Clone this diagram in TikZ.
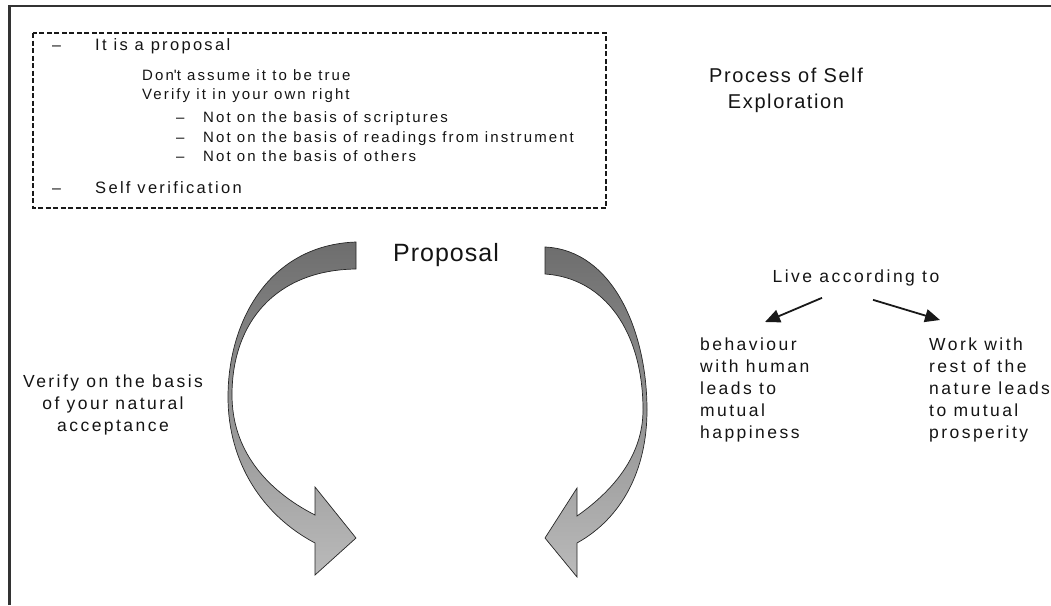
\documentclass[tikz,border=0pt]{standalone}
\usepackage{fontspec}
\setmainfont{Liberation Sans}[LetterSpace=14]
\usetikzlibrary{arrows.meta, positioning}
\tikzset{
    lbl/.style = {inner sep=0pt, text=black!92},
    dashmark/.style = {lbl, anchor=base west},
    topitem/.style = {lbl, anchor=base west, font=\fontsize{16.5}{19}\selectfont},
    subline/.style = {lbl, anchor=base west, font=\fontsize{15}{18}\selectfont},
    body/.style = {lbl, font=\fontsize{17.5}{22}\selectfont},
    ribbon/.style = {draw=black!85, line width=0.7pt, top color=black!57, bottom color=black!27},
    branch/.style = {-{Triangle[length=15pt,width=13pt]}, line width=1.8pt, black!90},
}

\begin{document}
\begin{tikzpicture}[x=1pt, y=-1pt]
    \useasboundingbox (0,0) rectangle (1051,605);
    \draw[black!80, line width=2.5pt] (9.5,605) -- (9.5,6) -- (1051,6);
    % the proposal box
    \draw[black!90, line width=2pt, dash pattern=on 5pt off 2.5pt] (33,33) rectangle (606,208);
    \node (d1) [dashmark, font=\fontsize{16}{19}\selectfont] at (52,50) {–};
    \node (i1) [topitem] at (95,50) {It is a proposal};
    \node (s1) [subline] at (142,80) {Don\textquotesingle t assume it to be true};
    \node (s2) [subline] at (142,99) {Verify it in your own right};
    \foreach \y/\what [count=\i] in {122/scriptures, 142/readings from instrument, 161/others}{
        \node (nd\i) [dashmark, font=\fontsize{15}{18}\selectfont] at (176,\y) {–};
        \node (n\i) [subline] at (203,\y) {Not on the basis of \what};
    }
    \node (d2) [dashmark, font=\fontsize{16}{19}\selectfont] at (52,193) {–};
    \node (i2) [topitem] at (95,193) {Self verification};

    \node (proc) [lbl, align=center, anchor=north,
        font=\fontsize{20}{26}\selectfont\addfontfeatures{LetterSpace=8}] at (786,68) {Process of Self\\Exploration};

    % the two curved arrows
    \node (prop) [lbl, anchor=base,
        font=\fontsize{25}{30}\selectfont\addfontfeatures{LetterSpace=4}] at (446,261) {Proposal};
    \draw[ribbon] (356,242) .. controls (270,245) and (228,320) .. (228,397)
        .. controls (228,462) and (262,515) .. (315,543) -- (315,575) -- (356,538)
        -- (315,487) -- (315,515) .. controls (266,490) and (232,450) .. (232,395)
        .. controls (232,322) and (276,270) .. (356,269) -- cycle;
    \draw[ribbon] (545,247) .. controls (612,250) and (647,330) .. (647,410)
        .. controls (647,470) and (622,518) .. (577,543) -- (577,577) -- (545,538)
        -- (577,488) -- (577,516) .. controls (614,490) and (643,455) .. (643,410)
        .. controls (643,332) and (605,278) .. (545,274) -- cycle;
    \node (ver) [body, align=center, anchor=north] at (113,375) {Verify on the basis\\of your natural\\acceptance};

    % live according to
    \node (live) [body, anchor=base] at (856,282) {Live according to};
    \node (beh) [body, align=left, anchor=north west] at (700,338) {behaviour\\with human\\leads to\\mutual\\happiness};
    \node (work) [body, align=left, anchor=north west] at (929,338) {Work with\\rest of the\\nature leads\\to mutual\\prosperity};
    \coordinate (lbeg) at ([shift={(-34,12)}]live.south);
    \coordinate (rbeg) at ([shift={(17,14)}]live.south);
    \coordinate (lend) at ([shift={(65,-16)}]beh.north west);
    \coordinate (rend) at ([shift={(11,-18)}]work.north west);
    \draw[branch] (lbeg) -- (lend);
    \draw[branch] (rbeg) -- (rend);
\end{tikzpicture}
\end{document}
